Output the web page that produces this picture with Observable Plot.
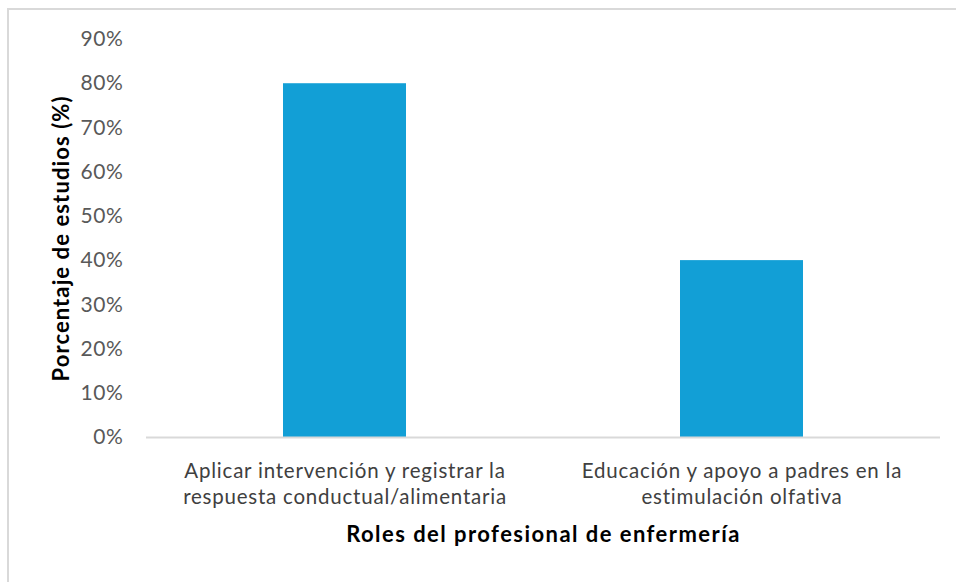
<!DOCTYPE html>
<html>
<head>
<meta charset="utf-8">
<script src="https://cdn.jsdelivr.net/npm/d3@7"></script>
<script src="https://cdn.jsdelivr.net/npm/@observablehq/plot@0.6"></script>
<style>
  html, body { margin: 0; padding: 0; background: #fff; overflow: hidden; }
  #wrap { position: relative; width: 956px; height: 582px; overflow: hidden; }
  #frame { position: absolute; left: 7px; top: 8px; width: 1000px; height: 1000px;
           border-top: 2px solid #d9d9d9; border-left: 2px solid #d9d9d9; box-sizing: border-box; }
  #chart { position: absolute; left: 0; top: 0; }
  g[aria-label="x-axis tick label"] text { letter-spacing: 0.78px; }
  g[aria-label="y-axis tick label"] text { letter-spacing: 0.6px; }
  g.title-text text { letter-spacing: 1.1px; }
  g.title-x text { letter-spacing: 1.45px; }
</style>
</head>
<body>
<div id="wrap"><div id="frame"></div><div id="chart"></div></div>
<script>
const categories = [
  "Aplicar intervención y registrar la\nrespuesta conductual/alimentaria",
  "Educación y apoyo a padres en la\nestimulación olfativa"
];
const values = [0.80, 0.40];
const yTicks = [0, 0.1, 0.2, 0.3, 0.4, 0.5, 0.6, 0.7, 0.8, 0.9];
const yTitle = "Porcentaje de estudios (%)";
const xTitle = "Roles del profesional de enfermería";

const data = categories.map((c, i) => ({category: c, value: values[i]}));

const font = "Lato, 'Open Sans', sans-serif";

const chart = Plot.plot({
  width: 956,
  height: 582,
  marginLeft: 146,
  marginRight: 16,
  marginTop: 39,
  marginBottom: 145,
  style: {fontFamily: font, background: "transparent", color: "#404040"},
  x: {domain: categories, paddingInner: 0.69, paddingOuter: 0.345, align: 0.5, label: null},
  y: {domain: [0, 0.9], label: null},
  marks: [
    Plot.barY(data, {x: "category", y: "value", fill: "#129fd6"}),
    Plot.ruleY([0], {stroke: "#d9d9d9", strokeWidth: 2}),
    Plot.axisY({ticks: yTicks, tickSize: 0, tickPadding: 23, tickFormat: d => `${Math.round(d * 100)}%`,
      label: null, fontSize: 21, fill: "#595959"}),
    Plot.axisX({tickSize: 0, tickPadding: 22, label: null, fontSize: 20.5, fill: "#404040", lineHeight: 1.27}),
    Plot.text([yTitle], {frameAnchor: "left", textAnchor: "middle", rotate: -90, dx: -85, fontSize: 22,
      fontWeight: "bold", fill: "#000"}),
    Plot.text([xTitle], {frameAnchor: "bottom", dy: 104, fontSize: 22, fontWeight: "bold", fill: "#000"})
  ]
});
const textGroups = d3.select(chart).selectAll('g[aria-label="text"]').nodes();
d3.select(textGroups[0]).classed("title-text", true);
d3.select(textGroups[1]).classed("title-x", true);
document.getElementById("chart").appendChild(chart);
</script>
</body>
</html>
